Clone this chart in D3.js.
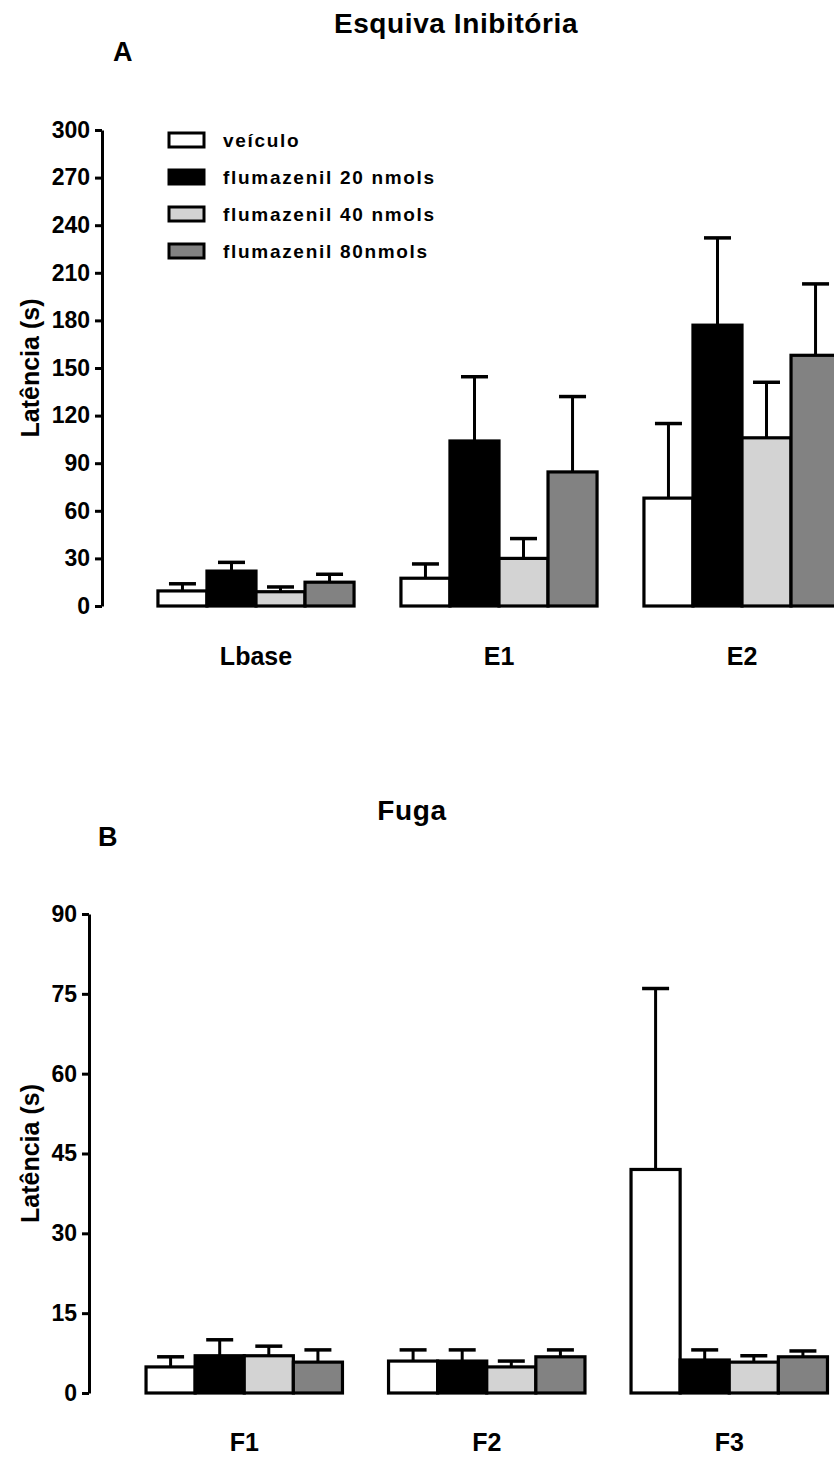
<!DOCTYPE html>
<html>
<head>
<meta charset="utf-8">
<script src="https://cdn.jsdelivr.net/npm/d3@7"></script>
<style>
  html, body { margin: 0; padding: 0; background: #fff; }
  svg { display: block; }
  text { font-family: "Liberation Sans", Arial, sans-serif; font-weight: bold; fill: #000; }
</style>
</head>
<body>
<svg id="chart" width="834" height="1458"></svg>
<script>
// ---- Data ----
const seriesNames = ["veículo", "flumazenil 20 nmols", "flumazenil 40 nmols", "flumazenil 80nmols"];
const seriesColors = ["#ffffff", "#000000", "#d3d3d3", "#828282"];

// Panel A: Esquiva Inibitória
const categoriesA = ["Lbase", "E1", "E2"];
const veiculoA = [9.5, 17.5, 68];
const flu20A = [22, 104, 177];
const flu40A = [9, 30, 106];
const flu80A = [15, 84.5, 158];
const veiculoErrA = [4.5, 9, 47];
const flu20ErrA = [5.5, 40.5, 55];
const flu40ErrA = [3, 12.5, 35];
const flu80ErrA = [5, 47.5, 45];
const ticksA = [0, 30, 60, 90, 120, 150, 180, 210, 240, 270, 300];

// Panel B: Fuga
const categoriesB = ["F1", "F2", "F3"];
const veiculoB = [4.9, 6, 42];
const flu20B = [7, 6, 6.2];
const flu40B = [7, 4.9, 5.8];
const flu80B = [5.8, 6.8, 6.8];
const veiculoErrB = [1.9, 2.1, 34];
const flu20ErrB = [3, 2.1, 1.9];
const flu40ErrB = [1.8, 1.1, 1.2];
const flu80ErrB = [2.3, 1.3, 1.1];
const ticksB = [0, 15, 30, 45, 60, 75, 90];

// ---- Drawing ----
const svg = d3.select("#chart");

function panel(cfg) {
  const g = svg.append("g");
  const y = d3.scaleLinear().domain(cfg.yDomain).range(cfg.yRange);
  const x = d3.scaleBand().domain(cfg.categories).range(cfg.xRange)
    .paddingInner(cfg.padInner).paddingOuter(cfg.padInner / 2);
  const xs = d3.scaleBand().domain(seriesNames).range([0, x.bandwidth()]).padding(0);

  const rows = [];
  cfg.categories.forEach((c, i) => {
    cfg.means.forEach((arr, s) => {
      rows.push({ cat: c, s: seriesNames[s], color: seriesColors[s], v: arr[i], e: cfg.errs[s][i] });
    });
  });

  // error bars (drawn behind bars)
  const eg = g.append("g");
  rows.forEach(d => {
    const cx = x(d.cat) + xs(d.s) + xs.bandwidth() / 2;
    eg.append("line").attr("x1", cx).attr("x2", cx)
      .attr("y1", y(d.v)).attr("y2", y(d.v + d.e))
      .attr("stroke", "#000").attr("stroke-width", 3);
    eg.append("line").attr("x1", cx - 13.5).attr("x2", cx + 13.5)
      .attr("y1", y(d.v + d.e)).attr("y2", y(d.v + d.e))
      .attr("stroke", "#000").attr("stroke-width", 3.5);
  });

  g.append("g").selectAll("rect").data(rows).join("rect")
    .attr("x", d => x(d.cat) + xs(d.s))
    .attr("width", xs.bandwidth())
    .attr("y", d => y(d.v))
    .attr("height", d => y(0) - y(d.v))
    .attr("fill", d => d.color)
    .attr("stroke", "#000")
    .attr("stroke-width", 3.2);

  // y axis
  const axis = d3.axisLeft(y).tickValues(cfg.ticks).tickSize(7).tickPadding(5).tickSizeOuter(0);
  const ag = g.append("g").attr("transform", `translate(${cfg.axisX},0)`).call(axis);
  ag.select(".domain").attr("stroke", "#000").attr("stroke-width", 3);
  ag.selectAll(".tick line").attr("stroke", "#000").attr("stroke-width", 3);
  ag.selectAll(".tick text").style("font-size", "23px").style("font-weight", "bold")
    .attr("fill", "#000").attr("font-family", null);

  // category labels
  g.append("g").selectAll("text").data(cfg.categories).join("text")
    .attr("x", d => x(d) + x.bandwidth() / 2)
    .attr("y", cfg.catY)
    .attr("text-anchor", "middle")
    .style("font-size", "25px")
    .text(d => d);

  // y label
  g.append("text")
    .attr("transform", `translate(${cfg.yLabelX},${(cfg.yRange[0] + cfg.yRange[1]) / 2}) rotate(-90)`)
    .attr("text-anchor", "middle")
    .style("font-size", "25px")
    .text("Latência (s)");

  // title and panel letter
  g.append("text").attr("x", cfg.titleX).attr("y", cfg.titleY)
    .attr("text-anchor", "middle").style("font-size", "28px").style("letter-spacing", "0.6px")
    .text(cfg.title);
  g.append("text").attr("x", cfg.letterX).attr("y", cfg.letterY)
    .style("font-size", "27px").text(cfg.letter);
}

panel({
  categories: categoriesA,
  means: [veiculoA, flu20A, flu40A, flu80A],
  errs: [veiculoErrA, flu20ErrA, flu40ErrA, flu80ErrA],
  yDomain: [0, 300], yRange: [606, 130], ticks: ticksA,
  xRange: [134.5, 863.5], padInner: 0.193,
  axisX: 102, catY: 665, yLabelX: 39,
  title: "Esquiva Inibitória", titleX: 456, titleY: 33,
  letter: "A", letterX: 113, letterY: 61
});

panel({
  categories: categoriesB,
  means: [veiculoB, flu20B, flu40B, flu80B],
  errs: [veiculoErrB, flu20ErrB, flu40ErrB, flu80ErrB],
  yDomain: [0, 90], yRange: [1393, 914], ticks: ticksB,
  xRange: [123, 850.5], padInner: 0.19,
  axisX: 89, catY: 1451, yLabelX: 39,
  title: "Fuga", titleX: 412, titleY: 820,
  letter: "B", letterX: 98, letterY: 846
});

// legend (panel A)
const legend = svg.append("g").selectAll("g").data(seriesNames).join("g")
  .attr("transform", (d, i) => `translate(169,${133 + i * 37})`);
legend.append("rect").attr("width", 35).attr("height", 14)
  .attr("fill", (d, i) => seriesColors[i]).attr("stroke", "#000").attr("stroke-width", 3);
legend.append("text").attr("x", 54).attr("y", 14)
  .style("font-size", "19px").style("letter-spacing", "1.7px")
  .text(d => d);
</script>
</body>
</html>
